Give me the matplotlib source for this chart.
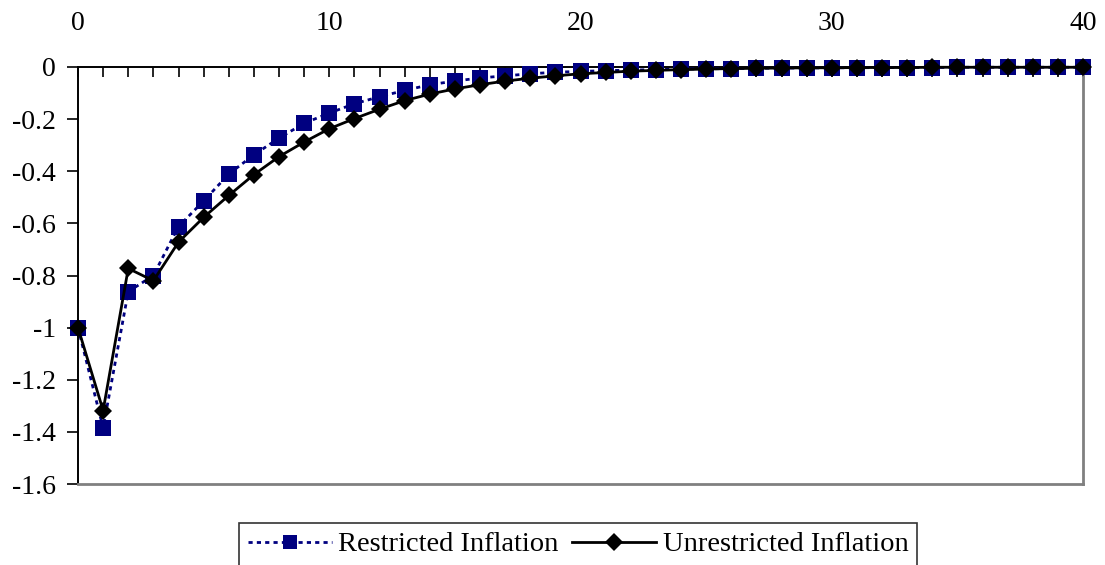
import matplotlib
matplotlib.use('Agg')
import matplotlib.pyplot as plt
from matplotlib.ticker import MultipleLocator, FuncFormatter

plt.rcParams['font.family'] = ['Liberation Serif', 'DejaVu Serif']
plt.rcParams['axes.unicode_minus'] = False

periods = list(range(41))

restricted = [-1.0, -1.385, -0.862, -0.80, -0.612, -0.514, -0.411, -0.337, -0.273, -0.216,
              -0.177, -0.141, -0.114, -0.090, -0.068, -0.054, -0.042, -0.034, -0.026, -0.020,
              -0.017, -0.014, -0.012, -0.010, -0.008, -0.007, -0.006, -0.005, -0.004, -0.004,
              -0.003, -0.003, -0.002, -0.002, -0.002, -0.001, -0.001, -0.001, -0.001, -0.001,
              -0.001]

unrestricted = [-1.0, -1.318, -0.773, -0.82, -0.672, -0.577, -0.493, -0.413, -0.344, -0.288,
                -0.237, -0.198, -0.162, -0.129, -0.104, -0.084, -0.068, -0.054, -0.043, -0.034,
                -0.026, -0.021, -0.016, -0.013, -0.010, -0.008, -0.006, -0.005, -0.004, -0.003,
                -0.003, -0.002, -0.002, -0.002, -0.001, -0.001, -0.001, -0.001, -0.001, -0.001,
                -0.001]

fig = plt.figure(figsize=(11.05, 5.65), dpi=100)
ax = fig.add_axes([78 / 1105, 1 - 484 / 565, (1083 - 78) / 1105, (484 - 67) / 565])

ax.plot(periods, restricted, color='#000080', linestyle=(0, (1.5, 1.5)), linewidth=2,
        marker='s', markersize=11, markeredgewidth=0, clip_on=False, zorder=3,
        label='Restricted Inflation')
ax.plot(periods, unrestricted, color='black', linestyle='-', linewidth=2,
        marker='D', markersize=9.5, markeredgewidth=0, clip_on=False, zorder=4,
        label='Unrestricted Inflation')

ax.set_xlim(0, 40)
ax.set_ylim(-1.6, 0)

# x axis sits on top (y = 0)
ax.xaxis.tick_top()
ax.xaxis.set_major_locator(MultipleLocator(10))
ax.xaxis.set_minor_locator(MultipleLocator(1))
ax.tick_params(axis='x', which='both', direction='in', length=7, width=1.2,
               labelsize=20, pad=22, color='black')
ax.yaxis.set_major_locator(MultipleLocator(0.2))
ax.yaxis.set_major_formatter(FuncFormatter(lambda v, p: '0' if abs(v) < 1e-9 else ('%g' % round(v, 1))))
ax.tick_params(axis='y', direction='out', length=8, width=1.2, labelsize=20, pad=8)

ax.spines['left'].set_color('black')
ax.spines['top'].set_color('black')
ax.spines['left'].set_linewidth(1.4)
ax.spines['top'].set_linewidth(1.4)
ax.spines['right'].set_color('#808080')
ax.spines['bottom'].set_color('#808080')
ax.spines['right'].set_linewidth(2)
ax.spines['bottom'].set_linewidth(2)

leg = fig.legend(loc='upper left', bbox_to_anchor=(239 / 1105, 1 - 523 / 565), ncol=2,
                 fontsize=20.5, frameon=True, fancybox=False, edgecolor='black',
                 handlelength=2.95, handletextpad=0.22, columnspacing=0.5,
                 borderpad=0.3, borderaxespad=0, markerscale=0.95)
leg.get_frame().set_linewidth(1.2)

fig.savefig('out.png', dpi=100)
